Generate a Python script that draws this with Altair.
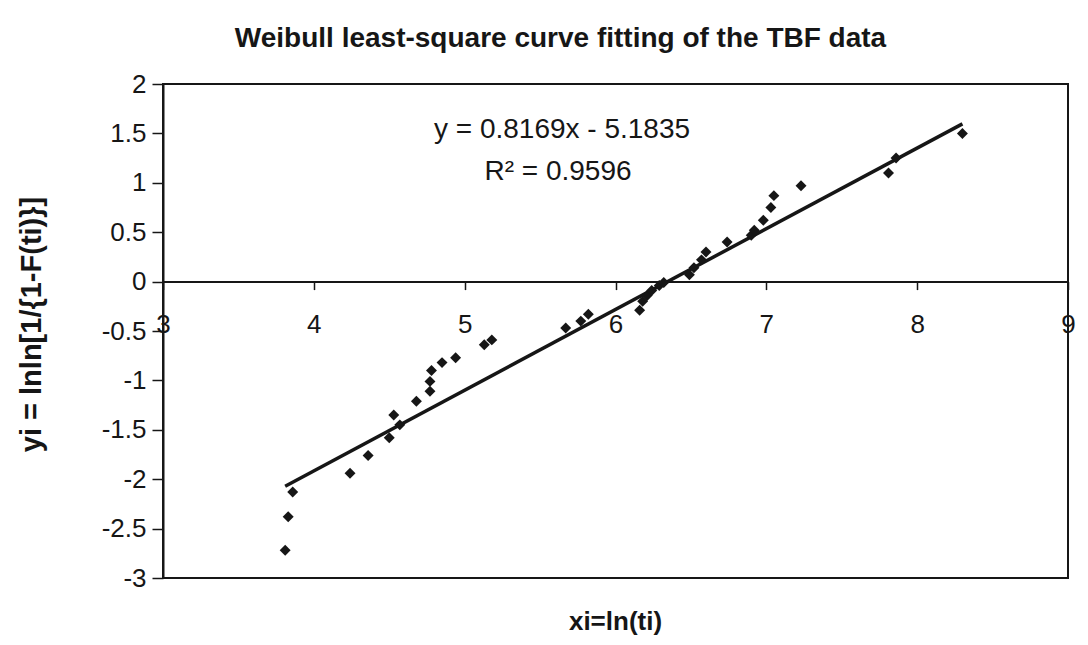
import altair as alt
import pandas as pd

# ---- data ----
xi = [3.81, 3.83, 3.86, 4.24, 4.36, 4.50, 4.53, 4.57, 4.68, 4.77, 4.77, 4.78,
      4.85, 4.94, 5.13, 5.18,
      5.67, 5.77, 5.82,
      6.16, 6.18, 6.21, 6.24, 6.29, 6.32,
      6.49, 6.52, 6.57, 6.60, 6.74, 6.90, 6.92, 6.98, 7.03, 7.05, 7.23,
      7.81, 7.86, 8.30]
yi = [-2.72, -2.38, -2.13, -1.94, -1.76, -1.58, -1.35, -1.45, -1.21, -1.11, -1.01, -0.90,
      -0.82, -0.77, -0.64, -0.59,
      -0.47, -0.40, -0.33,
      -0.29, -0.20, -0.14, -0.09, -0.04, -0.01,
      0.07, 0.14, 0.22, 0.30, 0.40, 0.47, 0.52, 0.62, 0.75, 0.87, 0.97,
      1.10, 1.25, 1.50]

slope = 0.8169
intercept = -5.1835
r_squared = 0.9596

x_ticks = [3, 4, 5, 6, 7, 8, 9]
y_ticks = [-3, -2.5, -2, -1.5, -1, -0.5, 0, 0.5, 1, 1.5, 2]

title_text = "Weibull least-square curve fitting of the TBF data"
x_title = "xi=ln(ti)"
y_title = "yi = lnln[1/{1-F(ti)}]"
eq_text = f"y = {slope}x - {abs(intercept)}"
r2_text = f"R\u00b2 = {r_squared}"

# ---- tables ----
pts = pd.DataFrame({"x": xi, "y": yi})
x0, x1 = min(xi), max(xi)
trend = pd.DataFrame({"x": [x0, x1],
                      "y": [slope * x0 + intercept, slope * x1 + intercept]})

W, H = 905, 494
FONT = "Liberation Sans"
INK = "#161616"

xs = alt.Scale(domain=[3, 9], nice=False, zero=False)
ys = alt.Scale(domain=[-3, 2], nice=False, zero=False)

# axis crossing at y = 0: pull the bottom axis up to the zero line
zero_offset = -(H * (0 - (-3)) / (2 - (-3)))

x_axis = alt.Axis(values=x_ticks, orient="bottom", offset=zero_offset,
                  grid=False, domainColor=INK, domainWidth=2,
                  tickColor=INK, tickSize=8, tickWidth=1.5,
                  labelPadding=22, labelFontSize=26, labelFont=FONT,
                  labelColor=INK, labelFlush=False, labelOverlap=False,
                  labelExpr="toString(datum.value)", title=None)
y_axis = alt.Axis(values=y_ticks, orient="left", grid=False,
                  domainColor=INK, domainWidth=2, tickColor=INK,
                  tickSize=11, tickWidth=1.5, labelPadding=6,
                  labelFontSize=26, labelFont=FONT, labelColor=INK,
                  labelExpr="toString(datum.value)", labelOverlap=False,
                  title=y_title, titleFont=FONT, titleFontSize=29,
                  titleFontWeight="bold", titleColor=INK,
                  titleX=-132, titleY=240, titleAngle=270,
                  titleAlign="center", titleBaseline="middle")

points = alt.Chart(pts).mark_point(shape="diamond", filled=True, size=120,
                                   color=INK, opacity=1).encode(
    x=alt.X("x:Q", scale=xs, axis=x_axis),
    y=alt.Y("y:Q", scale=ys, axis=y_axis),
)

line = alt.Chart(trend).mark_line(color=INK, strokeWidth=3.5).encode(
    x=alt.X("x:Q", scale=xs),
    y=alt.Y("y:Q", scale=ys),
)

eq = alt.Chart(pd.DataFrame({"t": [eq_text]})).mark_text(
    font=FONT, fontSize=28, color=INK, align="center", baseline="middle"
).encode(x=alt.value(399), y=alt.value(46), text="t:N")

r2 = alt.Chart(pd.DataFrame({"t": [r2_text]})).mark_text(
    font=FONT, fontSize=28, color=INK, align="center", baseline="middle"
).encode(x=alt.value(395), y=alt.value(88), text="t:N")

xt = alt.Chart(pd.DataFrame({"t": [x_title]})).mark_text(
    font=FONT, fontSize=26, fontWeight="bold", color=INK,
    align="center", baseline="middle"
).encode(x=alt.value(W / 2), y=alt.value(H + 44), text="t:N")

chart = alt.layer(line, points, eq, r2, xt).properties(
    width=W, height=H,
    title=alt.TitleParams(title_text, font=FONT, fontSize=28,
                          fontWeight="bold", color=INK, anchor="middle",
                          frame="group", dx=-55, offset=18),
    autosize=alt.AutoSizeParams(type="none"),
    padding={"left": 155, "top": 76, "right": 10, "bottom": 59},
    background="white",
).configure_view(stroke=INK, strokeWidth=2)

chart.save("out.html", embed_options={"renderer": "svg", "actions": False})
